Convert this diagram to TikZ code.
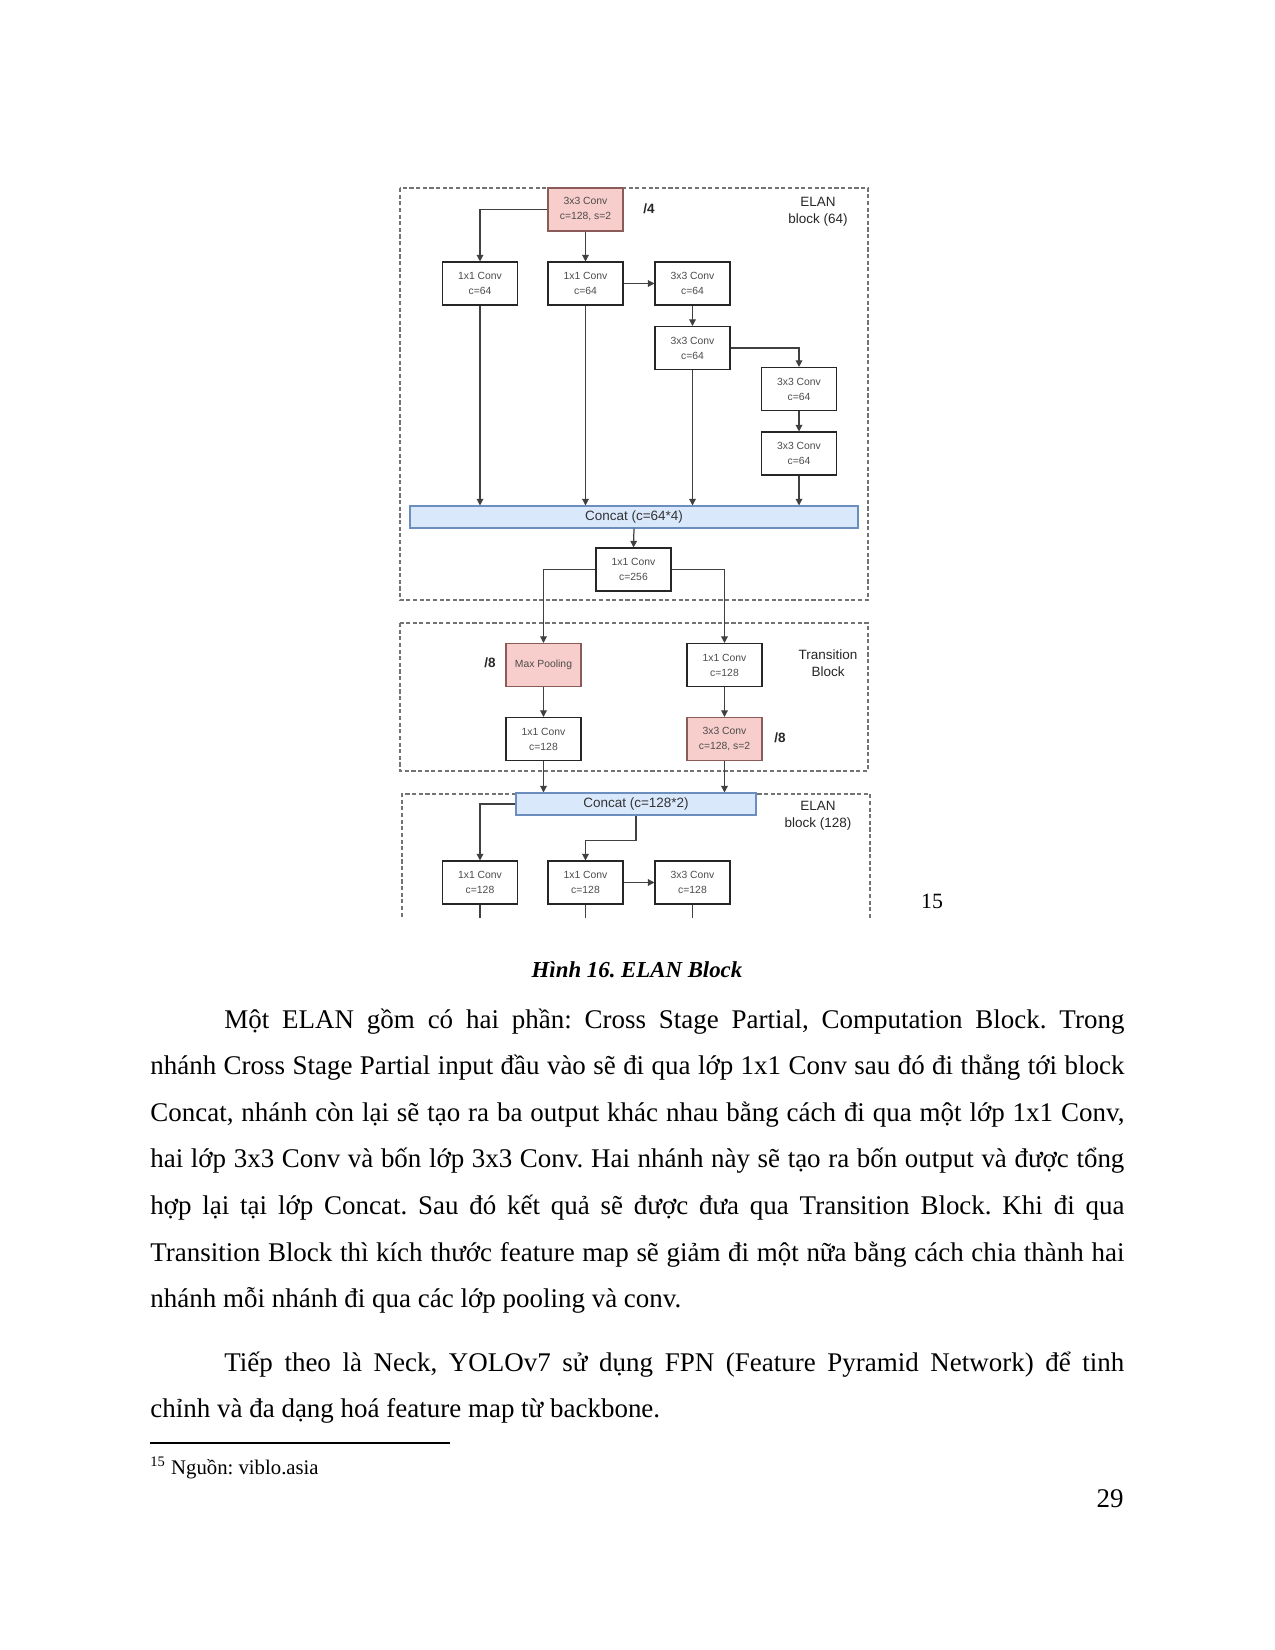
\documentclass[tikz,border=0pt]{standalone}
\usepackage{fontspec}
\setmainfont{Liberation Serif}
\newfontfamily\diagfont{Liberation Sans}
\usetikzlibrary{arrows.meta}
\frenchspacing
\newlength\pxl
\setlength\pxl{0.016933cm}
\definecolor{pinkfill}{HTML}{F8CECC}
\definecolor{pinkline}{HTML}{B85450}
\definecolor{bluefill}{HTML}{DAE8FC}
\definecolor{blueline}{HTML}{6C8EBF}
\tikzset{
  convbox/.style={draw=black!85, line width=0.5pt, fill=white,
    minimum width=75\pxl, minimum height=43\pxl, inner sep=0pt, align=center,
    font=\diagfont\fontsize{5}{7.2}\selectfont, text=black!70},
  redbox/.style={convbox, fill=pinkfill, draw=pinkline!60!black!80},
  catbar/.style={draw=blueline, fill=bluefill, line width=0.5pt,
    minimum height=22\pxl, inner sep=0pt,
    font=\diagfont\fontsize{6.5}{8}\selectfont, text=black!80},
  flow/.style={draw=black!75, line width=0.6pt,
    -{Triangle[length=3.2pt,width=3.2pt]}},
  frame/.style={draw=black!55, line width=0.5pt, dash pattern=on 2pt off 1.2pt},
  tag/.style={font=\diagfont\fontsize{6.5}{8.2}\selectfont, align=center, text=black!85},
  scaletag/.style={font=\diagfont\bfseries\fontsize{6.5}{8}\selectfont, text=black!85},
  body/.style={anchor=base west, inner sep=0pt, font=\fontsize{13pt}{15pt}\selectfont},
}
\newcommand\fullline[1]{\hbox to 974\pxl{#1}}
\newcommand\indentline[1]{\hbox to 900\pxl{#1}}
\begin{document}
\begin{tikzpicture}[x=0.016933cm, y=-0.016933cm]
\useasboundingbox (0,0) rectangle (1275,1650);

% figure
\begin{scope}
\clip (380,170) rectangle (900,917);
\draw[frame] (400,188) rectangle (868,600);
\draw[frame] (400,623) rectangle (868,771);
\draw[frame] (402,930) -- (402,794) -- (870,794) -- (870,930);

% ELAN block (64)
\node[redbox] (stem) at (585.5,209.5) {3x3 Conv\\c=128, s=2};
\node[convbox] (a1) at (480,283.5) {1x1 Conv\\c=64};
\node[convbox] (b1) at (585.5,283.5) {1x1 Conv\\c=64};
\node[convbox] (b2) at (692.5,283.5) {3x3 Conv\\c=64};
\node[convbox] (b3) at (692.5,348) {3x3 Conv\\c=64};
\node[convbox] (b4) at (799,389) {3x3 Conv\\c=64};
\node[convbox] (b5) at (799,453.5) {3x3 Conv\\c=64};
\node[catbar, minimum width=448\pxl] (cat1) at (634,517) {Concat (c=64*4)};
\node[convbox] (out1) at (633.5,569.5) {1x1 Conv\\c=256};
\node[scaletag] (s4) at (649,209) {/4};
\node[tag] (elan1) at (818,212) {ELAN\\block (64)};

% Transition block
\node[redbox] (pool) at (543.5,665) {Max Pooling};
\node[convbox] (tr1) at (724.5,665) {1x1 Conv\\c=128};
\node[convbox] (tl2) at (543.5,739) {1x1 Conv\\c=128};
\node[redbox] (tr2) at (724.5,739) {3x3 Conv\\c=128, s=2};
\node[scaletag] (s8a) at (490,663) {/8};
\node[scaletag] (s8b) at (780,738) {/8};
\node[tag] (trans) at (828,663) {Transition\\Block};

% ELAN block (128)
\node[catbar, minimum width=240\pxl] (cat2) at (636,804) {Concat (c=128*2)};
\node[convbox] (a2) at (480,882.5) {1x1 Conv\\c=128};
\node[convbox] (c1) at (585.5,882.5) {1x1 Conv\\c=128};
\node[convbox] (c2) at (692.5,882.5) {3x3 Conv\\c=128};
\node[tag] (elan2) at (818,816) {ELAN\\block (128)};
\coordinate (cut) at (0,935);

% connectors
\draw[flow] (stem.west) -| (a1.north);
\draw[flow] (stem.south) -- (b1.north);
\draw[flow] (b1.east) -- (b2.west);
\draw[flow] (b2.south) -- (b3.north);
\draw[flow] (b3.east) -| (b4.north);
\draw[flow] (b4.south) -- (b5.north);
\draw[flow] (a1.south) -- (a1.south |- cat1.north);
\draw[flow] (b1.south) -- (b1.south |- cat1.north);
\draw[flow] (b3.south) -- (b3.south |- cat1.north);
\draw[flow] (b5.south) -- (b5.south |- cat1.north);
\draw[flow] (cat1.south) -- (out1.north);
\draw[flow] (out1.west) -| (pool.north);
\draw[flow] (out1.east) -| (tr1.north);
\draw[flow] (pool.south) -- (tl2.north);
\draw[flow] (tr1.south) -- (tr2.north);
\draw[flow] (tl2.south) -- (tl2.south |- cat2.north);
\draw[flow] (tr2.south) -- (tr2.south |- cat2.north);
\draw[flow] (cat2.west) -| (a2.north);
\draw[flow] (cat2.south) -- ++(0,25) -| (c1.north);
\draw[flow] (c1.east) -- (c2.west);
\draw[draw=black!75, line width=0.6pt] (a2.south) -- (a2.south |- cut);
\draw[draw=black!75, line width=0.6pt] (c1.south) -- (c1.south |- cut);
\draw[flow] (c2.south) -- (c2.south |- cut);
\end{scope}
\node[anchor=base, inner sep=0pt, font=\fontsize{10.5pt}{12pt}\selectfont] (figmark) at (932,908) {15};

% caption and text
\node[anchor=base, inner sep=0pt, font=\fontsize{11pt}{13pt}\selectfont\bfseries\itshape] (caption) at (637,977) {Hình 16. ELAN Block};
\node[body] (p1l1) at (224,1028) {\indentline{Một ELAN gồm có hai phần: Cross Stage Partial, Computation Block. Trong}};
\node[body] (p1l2) at (150,1074.6) {\fullline{nhánh Cross Stage Partial input đầu vào sẽ đi qua lớp 1x1 Conv sau đó đi thẳng tới block}};
\node[body] (p1l3) at (150,1121.2) {\fullline{Concat, nhánh còn lại sẽ tạo ra ba output khác nhau bằng cách đi qua một lớp 1x1 Conv,}};
\node[body] (p1l4) at (150,1167.8) {\fullline{hai lớp 3x3 Conv và bốn lớp 3x3 Conv. Hai nhánh này sẽ tạo ra bốn output và được tổng}};
\node[body] (p1l5) at (150,1214.4) {\fullline{hợp lại tại lớp Concat. Sau đó kết quả sẽ được đưa qua Transition Block. Khi đi qua}};
\node[body] (p1l6) at (150,1261) {\fullline{Transition Block thì kích thước feature map sẽ giảm đi một nữa bằng cách chia thành hai}};
\node[body] (p1l7) at (150,1307.6) {nhánh mỗi nhánh đi qua các lớp pooling và conv.};
\node[body] (p2l1) at (224,1371) {\indentline{Tiếp theo là Neck, YOLOv7 sử dụng FPN (Feature Pyramid Network) để tinh}};
\node[body] (p2l2) at (150,1417.6) {chỉnh và đa dạng hoá feature map từ backbone.};

% footnote
\draw[line width=1.3pt] (150,1443) -- (450,1443);
\node[anchor=base west, inner sep=0pt, font=\fontsize{10pt}{12pt}\selectfont] (fnote) at (150,1474) {\textsuperscript{15} Nguồn: viblo.asia};
\node[anchor=base east, inner sep=0pt, font=\fontsize{13pt}{15pt}\selectfont] (pageno) at (1124,1507) {29};
\end{tikzpicture}
\end{document}
